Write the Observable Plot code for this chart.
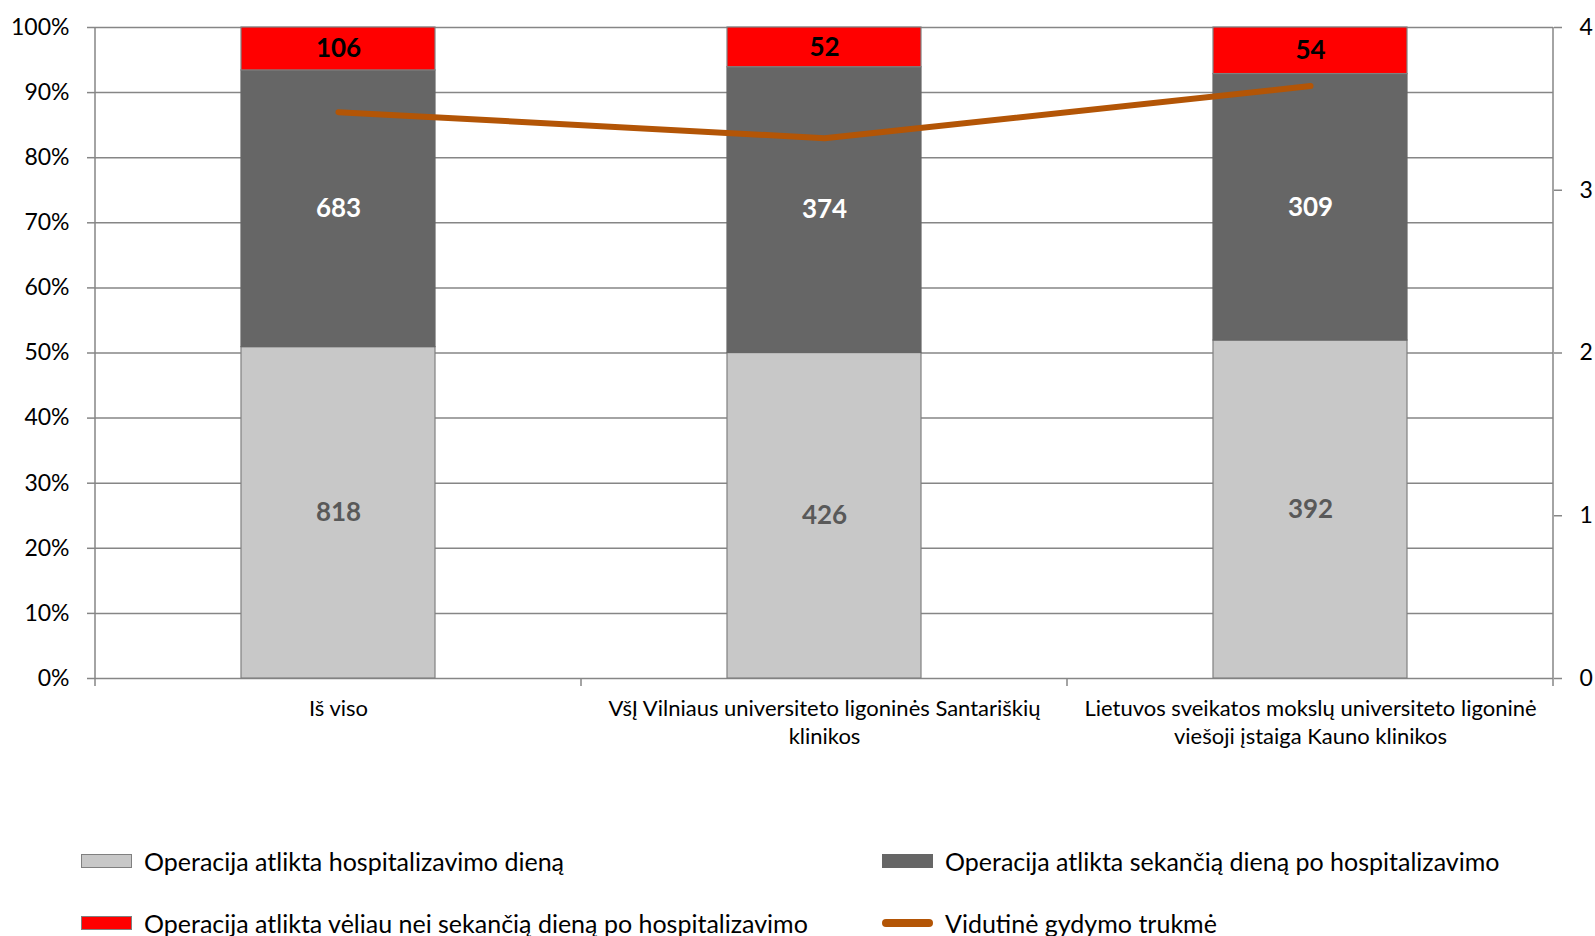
<!DOCTYPE html>
<html><head><meta charset="utf-8">
<script src="https://cdn.jsdelivr.net/npm/d3@7"></script>
<script src="https://cdn.jsdelivr.net/npm/@observablehq/plot@0.6"></script>
<style>
body{margin:0;background:#fff;font-family:Lato,sans-serif;}
#chart svg{display:block;}
#legend{position:relative;width:1595px;height:136px;}
.item{position:absolute;display:flex;align-items:center;font-size:25px;color:#000;transform:translateY(-50%);white-space:nowrap;}
.sw{width:51px;height:14px;margin-right:12px;box-sizing:border-box;}
</style></head><body>
<div id="chart"></div>
<div id="legend"></div>
<script>
const categories = ["Iš viso", "VšĮ Vilniaus universiteto ligoninės Santariškių klinikos", "Lietuvos sveikatos mokslų universiteto ligoninė viešoji įstaiga Kauno klinikos"];
const categoryLabels = ["Iš viso", "VšĮ Vilniaus universiteto ligoninės Santariškių\nklinikos", "Lietuvos sveikatos mokslų universiteto ligoninė\nviešoji įstaiga Kauno klinikos"];
const seriesNames = ["Operacija atlikta hospitalizavimo dieną", "Operacija atlikta sekančią dieną po hospitalizavimo", "Operacija atlikta vėliau nei sekančią dieną po hospitalizavimo"];
const lineName = "Vidutinė gydymo trukmė";
const sameDay = [818, 426, 392];
const nextDay = [683, 374, 309];
const later = [106, 52, 54];
const avgStay = [3.48, 3.32, 3.64];
const leftTicks = [0, 0.1, 0.2, 0.3, 0.4, 0.5, 0.6, 0.7, 0.8, 0.9, 1];
const rightTicks = [0, 1, 2, 3, 4];
const rightMax = 4;

const seriesColors = ["#c8c8c8", "#666666", "#ff0000"];
const labelColors = ["#595959", "#ffffff", "#000000"];
const lineColor = "#b35506";

const seriesValues = [sameDay, nextDay, later];
const rows = [];
categories.forEach((c, i) => seriesValues.forEach((vals, s) => rows.push({cat: c, s, series: seriesNames[s], value: vals[i]})));
const lineRows = categories.map((c, i) => ({cat: c, v: avgStay[i]}));

const W = 1595, H = 800, ML = 95, MR = 42, MT = 27, MB = 122;

const frameAndTicks = (index, scales, values, dims) => {
  const g = d3.create("svg:g");
  const x0 = dims.marginLeft, x1 = dims.width - dims.marginRight;
  const y0 = dims.marginTop, y1 = dims.height - dims.marginBottom;
  const n = categories.length, step = (x1 - x0) / n;
  g.append("line").attr("x1", x0).attr("x2", x0).attr("y1", y0).attr("y2", y1 + 8).attr("stroke", "#868686").attr("stroke-width", 1.5);
  g.append("line").attr("x1", x1).attr("x2", x1).attr("y1", y0).attr("y2", y1).attr("stroke", "#868686").attr("stroke-width", 1.5);
  for (let i = 1; i <= n; i++) {
    g.append("line").attr("x1", x0 + i * step).attr("x2", x0 + i * step).attr("y1", y1).attr("y2", y1 + 8).attr("stroke", "#868686").attr("stroke-width", 1.5);
  }
  return g.node();
};

const chart = Plot.plot({
  width: W, height: H,
  marginLeft: ML, marginRight: MR, marginTop: MT, marginBottom: MB,
  style: {fontFamily: "Lato, sans-serif", background: "#fff"},
  x: {domain: categories, paddingInner: 0.6, paddingOuter: 0.3, axis: null},
  y: {domain: [0, 1], axis: null},
  marks: [
    Plot.gridY(leftTicks, {stroke: "#868686", strokeOpacity: 1, strokeWidth: 1.5}),
    Plot.barY(rows, Plot.stackY({offset: "normalize", order: seriesNames, x: "cat", y: "value", z: "series",
      fill: d => seriesColors[d.s], stroke: d => d.s === 1 ? seriesColors[1] : "#808080", strokeWidth: 1.2,
      style: "filter: drop-shadow(2px 2px 2px rgba(0,0,0,0.35))"})),
    Plot.text(rows, Plot.stackY({offset: "normalize", order: seriesNames, x: "cat", y: "value", z: "series",
      text: d => String(d.value), fill: d => labelColors[d.s], fontSize: 26, fontWeight: "bold"})),
    Plot.line(lineRows, {x: "cat", y: d => d.v / rightMax, stroke: lineColor, strokeWidth: 6, strokeLinecap: "round", strokeLinejoin: "miter",
      style: "filter: drop-shadow(2px 3px 2px rgba(0,0,0,0.35))"}),
    Plot.axisY({anchor: "left", ticks: leftTicks, tickFormat: d3.format(".0%"), tickSize: 8, tickPadding: 18, stroke: "#868686", strokeWidth: 1.5, fill: "#000", fontSize: 23, label: null}),
    Plot.axisY({anchor: "right", ticks: rightTicks.map(v => v / rightMax), tickFormat: d => String(Math.round(d * rightMax)), tickSize: 8, tickPadding: 18, stroke: "#868686", strokeWidth: 1.5, fill: "#000", fontSize: 23, label: null}),
    Plot.text(categories, {x: d => d, text: (d, i) => categoryLabels[i], frameAnchor: "bottom", lineAnchor: "top", dy: 17, fontSize: 22, lineHeight: 1.3, fill: "#000"}),
    frameAndTicks
  ]
});
document.getElementById("chart").append(chart);

const legendItems = [
  {name: seriesNames[0], color: seriesColors[0], border: "#808080", left: 81, top: 61, type: "box"},
  {name: seriesNames[1], color: seriesColors[1], border: seriesColors[1], left: 882, top: 61, type: "box"},
  {name: seriesNames[2], color: seriesColors[2], border: "#808080", left: 81, top: 123, type: "box"},
  {name: lineName, color: lineColor, border: lineColor, left: 882, top: 123, type: "line"}
];
const legend = document.getElementById("legend");
legendItems.forEach(it => {
  const d = document.createElement("div");
  d.className = "item";
  d.style.left = it.left + "px";
  d.style.top = it.top + "px";
  const sw = document.createElement("span");
  sw.className = "sw";
  if (it.type === "box") {
    sw.style.background = it.color;
    sw.style.border = "1.5px solid " + it.border;
  } else {
    sw.style.height = "8px";
    sw.style.borderRadius = "4px";
    sw.style.background = it.color;
  }
  const t = document.createElement("span");
  t.textContent = it.name;
  d.append(sw, t);
  legend.append(d);
});
</script>
</body></html>
